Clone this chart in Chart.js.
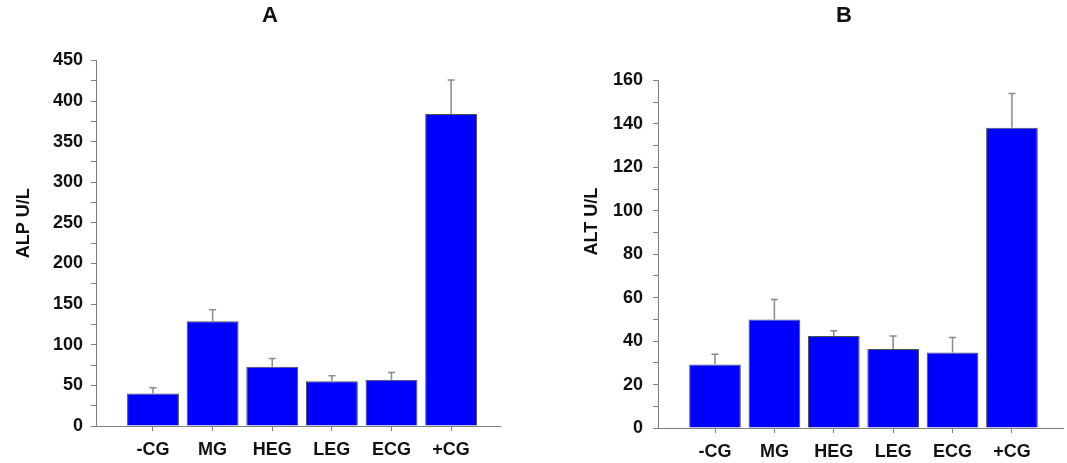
<!DOCTYPE html>
<html>
<head>
<meta charset="UTF-8">
<title>ALP / ALT</title>
<script src="https://cdn.jsdelivr.net/npm/chart.js"></script>
<style>
  body { margin: 0; background: #fff; overflow: hidden; width: 1067px; height: 463px; }
  .panel { position: absolute; top: 0; height: 463px; }
</style>
</head>
<body>
<div class="panel" style="left:0; width:540px;"><canvas id="chartA"></canvas></div>
<div class="panel" style="left:560px; width:568px;"><canvas id="chartB"></canvas></div>

<script>
const groups = ['-CG', 'MG', 'HEG', 'LEG', 'ECG', '+CG'];
const alpMean = [40, 129, 73, 55, 57, 384];
const alpErr  = [7, 14, 10, 7, 9, 42];
const altMean = [29.2, 49.9, 42.3, 36.4, 34.8, 138.2];
const altErr  = [4.7, 9.3, 2.5, 5.9, 6.8, 15.8];

const FONT = 'Liberation Sans, Arial, sans-serif';
const AXIS_GREY = '#808080';

// upper-only error bars with a small cap
const errorBars = {
  id: 'errorBars',
  afterDatasetsDraw(chart, args, opts) {
    const ctx = chart.ctx;
    const y = chart.scales.y;
    const meta = chart.getDatasetMeta(0);
    const vals = chart.data.datasets[0].data;
    ctx.save();
    ctx.strokeStyle = '#8a8a8a';
    ctx.lineWidth = 1.5;
    meta.data.forEach((bar, i) => {
      const top = y.getPixelForValue(vals[i].y + opts.errors[i]);
      ctx.beginPath();
      ctx.moveTo(bar.x, bar.y);
      ctx.lineTo(bar.x, top);
      ctx.moveTo(bar.x - 3.5, top);
      ctx.lineTo(bar.x + 3.5, top);
      ctx.stroke();
    });
    ctx.restore();
  }
};

function makeChart(id, opt) {
  return new Chart(document.getElementById(id), {
    type: 'bar',
    data: {
      datasets: [{
        data: opt.means.map((v, i) => ({ x: i, y: v })),
        backgroundColor: '#0000ff',
        borderColor: '#505050',
        borderWidth: 1,
        barPercentage: 0.87,
        categoryPercentage: 1
      }]
    },
    options: {
      responsive: true,
      maintainAspectRatio: false,
      animation: false,
      layout: { padding: 0 },
      plugins: {
        legend: { display: false },
        tooltip: { enabled: false },
        title: {
          display: true,
          text: opt.title,
          color: '#111',
          font: { family: FONT, size: 22, weight: 'bold' },
          padding: { top: 3, bottom: opt.titleGap }
        },
        errorBars: { errors: opt.errors }
      },
      scales: {
        x: {
          type: 'linear',
          offset: false,
          min: opt.xMin,
          max: opt.xMax,
          afterBuildTicks(s) { s.ticks = groups.map((g, i) => ({ value: i })); },
          afterFit(s) { s.height = opt.xHeight; },
          ticks: {
            autoSkip: false,
            maxRotation: 0,
            color: '#111',
            padding: 8,
            font: { family: FONT, size: 18, weight: 'bold' },
            callback: v => groups[v]
          },
          grid: { offset: false, drawOnChartArea: false, tickLength: 5, color: AXIS_GREY },
          border: { color: AXIS_GREY }
        },
        y: {
          min: 0,
          max: opt.yMax,
          afterFit(s) { s.width = opt.yWidth; },
          ticks: {
            stepSize: opt.minorStep,
            autoSkip: false,
            color: '#111',
            padding: opt.tickPad,
            font: { family: FONT, size: 18, weight: 'bold' },
            callback: v => (v % (opt.minorStep * 2) === 0 ? v : '')
          },
          grid: { drawOnChartArea: false, tickLength: 5, color: AXIS_GREY },
          border: { color: AXIS_GREY },
          title: {
            display: true,
            text: opt.yTitle,
            color: '#111',
            font: { family: FONT, size: 18, weight: 'bold' },
            padding: { top: opt.yTitlePad, bottom: 0 }
          }
        },
        pad: {
          type: 'linear',
          position: 'right',
          display: true,
          afterFit(s) { s.width = opt.rightGap; },
          ticks: { display: false },
          grid: { display: false },
          border: { display: false }
        }
      }
    },
    plugins: [errorBars]
  });
}

makeChart('chartA', {
  title: 'A', means: alpMean, errors: alpErr,
  yTitle: '        ALP U/L', yTitlePad: 13, yMax: 450, minorStep: 25,
  xMin: -0.956, xMax: 5.82, yWidth: 96, rightGap: 40, xHeight: 37,
  titleGap: 31, tickPad: 8
});

makeChart('chartB', {
  title: 'B', means: altMean, errors: altErr,
  yTitle: '             ALT U/L', yTitlePad: 21, yMax: 160, minorStep: 10,
  xMin: -0.96, xMax: 5.86, yWidth: 98, rightGap: 65, xHeight: 35,
  titleGap: 51, tickPad: 10
});
</script>
</body>
</html>
